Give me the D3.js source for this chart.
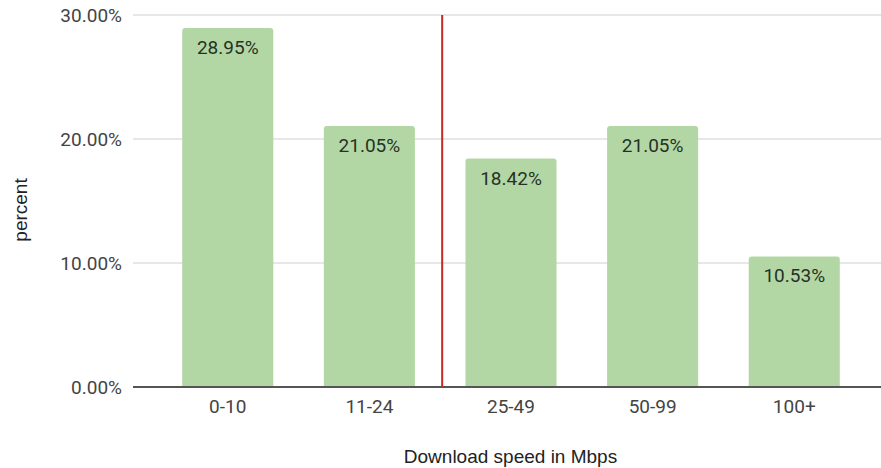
<!DOCTYPE html>
<html>
<head>
<meta charset="utf-8">
<script src="https://cdn.jsdelivr.net/npm/d3@7"></script>
<style>
  html, body { margin: 0; padding: 0; background: #fff; }
  svg { display: block; }
</style>
</head>
<body>
<svg id="chart" width="881" height="468"></svg>
<script>
// Share of respondents by download speed bracket
const categories = ["0-10", "11-24", "25-49", "50-99", "100+"];
const percents = [28.95, 21.05, 18.42, 21.05, 10.53];
const yTicks = [0, 10, 20, 30];
const thresholdAfter = "11-24"; // vertical marker sits after this bracket

const svg = d3.select("#chart");
const gridLeft = 133, gridRight = 881;
const plotTop = 15, plotBottom = 387;
const labelFont = "Roboto, Arial, sans-serif";
const titleFont = "Arial, 'Liberation Sans', sans-serif";

const x = d3.scaleBand()
  .domain(categories)
  .range([157, 865])
  .paddingInner(0.357)
  .paddingOuter(0.178);

const y = d3.scaleLinear().domain([0, 30]).range([plotBottom, plotTop]);

// horizontal gridlines
svg.append("g")
  .selectAll("line")
  .data(yTicks.filter(d => d !== 0))
  .join("line")
  .attr("x1", gridLeft).attr("x2", gridRight)
  .attr("y1", d => y(d)).attr("y2", d => y(d))
  .attr("stroke", "#cfcfcf").attr("stroke-width", 1);

// y tick labels
const yAxis = d3.axisLeft(y).tickValues(yTicks).tickSize(0).tickPadding(0)
  .tickFormat(d => d.toFixed(2) + "%");
const gy = svg.append("g").attr("transform", "translate(122,0)").call(yAxis);
gy.select(".domain").remove();
gy.selectAll("text")
  .attr("font-family", labelFont)
  .attr("font-size", 19).attr("fill", "#444");

// bars with rounded tops
const r = 3;
svg.append("g")
  .selectAll("path")
  .data(categories.map((c, i) => ({ c, v: percents[i] })))
  .join("path")
  .attr("fill", "#b3d7a4")
  .attr("d", d => {
    const x0 = x(d.c), w = x.bandwidth(), y0 = y(d.v), y1 = y(0);
    return `M${x0},${y1}V${y0 + r}Q${x0},${y0} ${x0 + r},${y0}` +
           `H${x0 + w - r}Q${x0 + w},${y0} ${x0 + w},${y0 + r}V${y1}Z`;
  });

// value labels inside bar tops
svg.append("g")
  .selectAll("text")
  .data(categories.map((c, i) => ({ c, v: percents[i] })))
  .join("text")
  .attr("x", d => x(d.c) + x.bandwidth() / 2)
  .attr("y", d => y(d.v) + 26)
  .attr("text-anchor", "middle")
  .attr("font-family", labelFont)
  .attr("font-size", 19)
  .attr("fill", "#263126")
  .text(d => d.v.toFixed(2) + "%");

// baseline
svg.append("line")
  .attr("x1", gridLeft).attr("x2", gridRight)
  .attr("y1", y(0)).attr("y2", y(0))
  .attr("stroke", "#555").attr("stroke-width", 2);

// x axis labels
const xAxis = d3.axisBottom(x).tickSize(0).tickPadding(0);
const gx = svg.append("g").attr("transform", `translate(0,${y(0)})`).call(xAxis);
gx.select(".domain").remove();
gx.selectAll("text")
  .attr("y", 26).attr("dy", 0)
  .attr("font-family", labelFont)
  .attr("font-size", 19).attr("fill", "#444");

// vertical threshold marker between brackets
const idx = categories.indexOf(thresholdAfter);
const markX = (x(categories[idx]) + x.bandwidth() + x(categories[idx + 1])) / 2 + 2;
svg.append("line")
  .attr("x1", markX).attr("x2", markX)
  .attr("y1", y(30)).attr("y2", y(0))
  .attr("stroke", "#c62828").attr("stroke-width", 2);

// axis titles
svg.append("text")
  .attr("x", 510.5).attr("y", 463)
  .attr("text-anchor", "middle")
  .attr("font-family", titleFont)
  .attr("font-size", 19).attr("fill", "#222")
  .text("Download speed in Mbps");

svg.append("text")
  .attr("transform", "translate(27,210) rotate(-90)")
  .attr("text-anchor", "middle")
  .attr("font-family", titleFont)
  .attr("font-size", 19).attr("fill", "#222")
  .text("percent");
</script>
</body>
</html>
